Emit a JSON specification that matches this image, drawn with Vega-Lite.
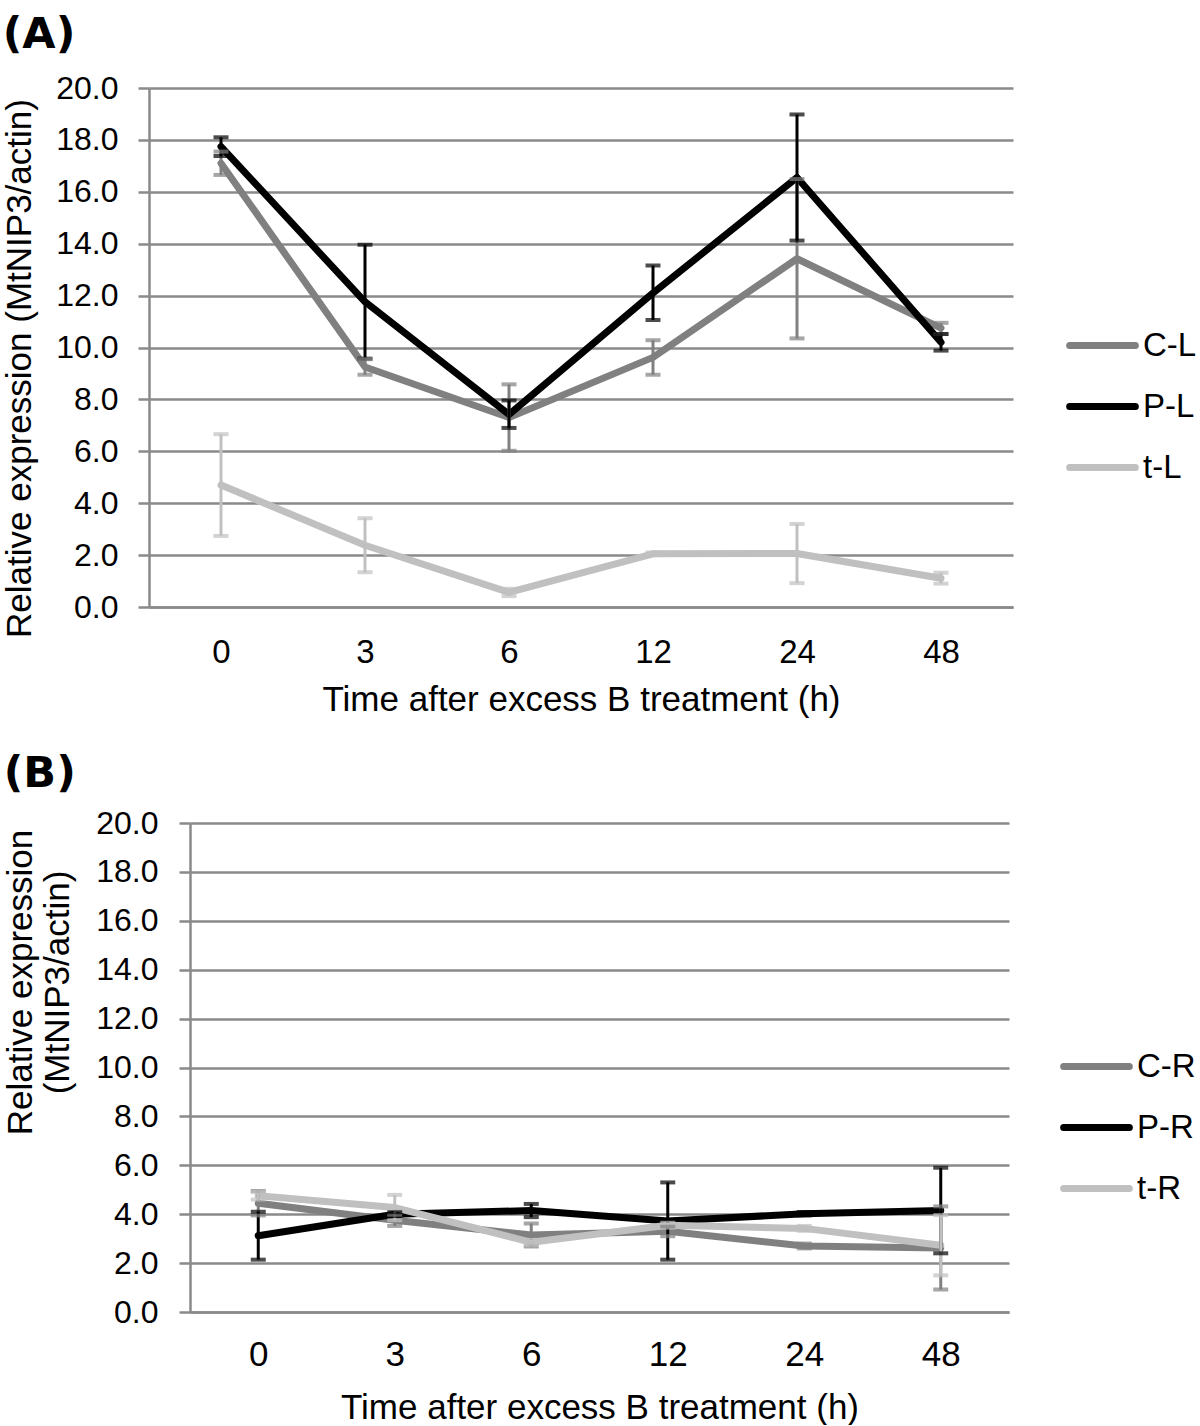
{
  "$schema": "https://vega.github.io/schema/vega-lite/v6.json",
  "background": "white",
  "padding": {"left": 2, "top": 14, "right": 0, "bottom": 0},
  "spacing": 36,
  "resolve": {"scale": {"color": "independent", "x": "independent", "y": "independent"}, "legend": {"color": "independent"}},
  "config": {
    "font": "Liberation Sans",
    "view": {"stroke": null},
    "axis": {
      "labelFont": "Liberation Sans", "titleFont": "Liberation Sans",
      "labelColor": "#000000", "titleColor": "#000000", "titleFontWeight": "normal",
      "domainColor": "#8a8a8a", "domainWidth": 2.5,
      "gridColor": "#8a8a8a", "gridWidth": 2.5,
      "tickColor": "#8a8a8a", "tickWidth": 2.5
    },
    "legend": {"labelFont": "Liberation Sans", "labelColor": "#000000", "padding": 0},
    "title": {"font": "DejaVu Sans", "color": "#000000"}
  },
  "datasets": {
    "dA": [
      {"series": "C-L", "time": "0", "value": 17.1, "lo": 16.65, "hi": 17.55},
      {"series": "C-L", "time": "3", "value": 9.25, "lo": 8.95, "hi": 9.55},
      {"series": "C-L", "time": "6", "value": 7.3, "lo": 6.02, "hi": 8.58},
      {"series": "C-L", "time": "12", "value": 9.62, "lo": 8.95, "hi": 10.28},
      {"series": "C-L", "time": "24", "value": 13.42, "lo": 10.35, "hi": 16.49},
      {"series": "C-L", "time": "48", "value": 10.75, "lo": 10.52, "hi": 10.95},
      {"series": "P-L", "time": "0", "value": 17.74, "lo": 17.38, "hi": 18.1},
      {"series": "P-L", "time": "3", "value": 11.76, "lo": 9.57, "hi": 13.96},
      {"series": "P-L", "time": "6", "value": 7.42, "lo": 6.9, "hi": 7.96},
      {"series": "P-L", "time": "12", "value": 12.1, "lo": 11.06, "hi": 13.16},
      {"series": "P-L", "time": "24", "value": 16.55, "lo": 14.12, "hi": 18.98},
      {"series": "P-L", "time": "48", "value": 10.2, "lo": 9.88, "hi": 10.52},
      {"series": "t-L", "time": "0", "value": 4.7, "lo": 2.74, "hi": 6.66},
      {"series": "t-L", "time": "3", "value": 2.38, "lo": 1.34, "hi": 3.42},
      {"series": "t-L", "time": "6", "value": 0.56, "lo": 0.42, "hi": 0.7},
      {"series": "t-L", "time": "12", "value": 2.05, "lo": 2.0, "hi": 2.1},
      {"series": "t-L", "time": "24", "value": 2.06, "lo": 0.92, "hi": 3.2},
      {"series": "t-L", "time": "48", "value": 1.11, "lo": 0.9, "hi": 1.32}
    ],
    "dB": [
      {"series": "C-R", "time": "0", "value": 4.45, "lo": 3.95, "hi": 4.95},
      {"series": "C-R", "time": "3", "value": 3.75, "lo": 3.52, "hi": 3.98},
      {"series": "C-R", "time": "6", "value": 3.15, "lo": 2.68, "hi": 3.62},
      {"series": "C-R", "time": "12", "value": 3.3, "lo": 3.1, "hi": 3.5},
      {"series": "C-R", "time": "24", "value": 2.7, "lo": 2.6, "hi": 2.8},
      {"series": "C-R", "time": "48", "value": 2.62, "lo": 0.92, "hi": 4.32},
      {"series": "P-R", "time": "0", "value": 3.12, "lo": 2.14, "hi": 4.1},
      {"series": "P-R", "time": "3", "value": 4.0, "lo": 3.92, "hi": 4.08},
      {"series": "P-R", "time": "6", "value": 4.15, "lo": 3.88, "hi": 4.42},
      {"series": "P-R", "time": "12", "value": 3.72, "lo": 2.14, "hi": 5.3},
      {"series": "P-R", "time": "24", "value": 4.02, "lo": 3.95, "hi": 4.09},
      {"series": "P-R", "time": "48", "value": 4.15, "lo": 2.4, "hi": 5.9},
      {"series": "t-R", "time": "0", "value": 4.75, "lo": 4.6, "hi": 4.9},
      {"series": "t-R", "time": "3", "value": 4.27, "lo": 3.75, "hi": 4.79},
      {"series": "t-R", "time": "6", "value": 2.85, "lo": 2.75, "hi": 2.95},
      {"series": "t-R", "time": "12", "value": 3.55, "lo": 3.45, "hi": 3.65},
      {"series": "t-R", "time": "24", "value": 3.42, "lo": 3.32, "hi": 3.52},
      {"series": "t-R", "time": "48", "value": 2.73, "lo": 1.5, "hi": 3.96}
    ]
  },
  "vconcat": [
    {"hconcat": [
    {
      "width": 864,
      "height": 519,
      "data": {"name": "dA"},
      "title": {"text": "(A)", "anchor": "start", "frame": "bounds", "fontSize": 43, "fontWeight": "bold", "offset": 15},
      "encoding": {
        "x": {"field": "time", "type": "ordinal", "sort": ["0", "3", "6", "12", "24", "48"], "scale": {"type": "point", "padding": 0.5},
          "axis": {"title": "Time after excess B treatment (h)", "labelAngle": 0, "labelFontSize": 33, "titleFontSize": 35, "ticks": false, "labelPadding": 29, "titlePadding": 13, "grid": false}},
        "color": {"field": "series", "type": "nominal", "scale": {"domain": ["C-L", "P-L", "t-L"], "range": ["#808080", "#000000", "#c0c0c0"]},
          "legend": {"title": null, "orient": "none", "legendX": 937, "legendY": 241, "symbolType": "M-2.7,0H2.7", "symbolSize": 592, "symbolStrokeWidth": 7, "labelFontSize": 33, "labelOffset": 24, "rowPadding": 27,
            "encode": {"symbols": {"update": {"strokeCap": {"value": "round"}, "fill": {"value": "transparent"}}}}}}
      },
      "layer": [
        {"mark": {"type": "line", "strokeWidth": 7, "strokeJoin": "round", "strokeCap": "round"},
          "encoding": {"y": {"field": "value", "type": "quantitative", "scale": {"domain": [0, 20], "nice": false},
            "axis": {"title": "Relative expression (MtNIP3/actin)", "values": [0, 2, 4, 6, 8, 10, 12, 14, 16, 18, 20], "format": ".1f", "labelFontSize": 32, "titleFontSize": 35, "tickSize": 11, "labelPadding": 20, "titlePadding": 18, "titleY": 280, "grid": true}}}},
        {"mark": {"type": "rule", "strokeWidth": 3},
          "encoding": {"y": {"field": "lo", "type": "quantitative",
            "axis": {"title": "Relative expression (MtNIP3/actin)", "values": [0, 2, 4, 6, 8, 10, 12, 14, 16, 18, 20], "format": ".1f", "labelFontSize": 32, "titleFontSize": 35, "tickSize": 11, "labelPadding": 20, "titlePadding": 18, "titleY": 280, "grid": true}}, "y2": {"field": "hi"}}},
        {"mark": {"type": "tick", "size": 15, "thickness": 4},
          "encoding": {"y": {"field": "lo", "type": "quantitative",
            "axis": {"title": "Relative expression (MtNIP3/actin)", "values": [0, 2, 4, 6, 8, 10, 12, 14, 16, 18, 20], "format": ".1f", "labelFontSize": 32, "titleFontSize": 35, "tickSize": 11, "labelPadding": 20, "titlePadding": 18, "titleY": 280, "grid": true}}}},
        {"mark": {"type": "tick", "size": 15, "thickness": 4},
          "encoding": {"y": {"field": "hi", "type": "quantitative",
            "axis": {"title": "Relative expression (MtNIP3/actin)", "values": [0, 2, 4, 6, 8, 10, 12, 14, 16, 18, 20], "format": ".1f", "labelFontSize": 32, "titleFontSize": 35, "tickSize": 11, "labelPadding": 20, "titlePadding": 18, "titleY": 280, "grid": true}}}}
      ]
    }
    ]},
    {"bounds": "flush", "spacing": 0, "hconcat": [
    {"width": 41, "height": 489, "data": {"values": []}, "mark": "point"},
    {
      "width": 819,
      "height": 489,
      "data": {"name": "dB"},
      "title": {"text": "(B)", "anchor": "start", "frame": "bounds", "fontSize": 43, "fontWeight": "bold", "offset": 11},
      "encoding": {
        "x": {"field": "time", "type": "ordinal", "sort": ["0", "3", "6", "12", "24", "48"], "scale": {"type": "point", "padding": 0.5},
          "axis": {"title": "Time after excess B treatment (h)", "labelAngle": 0, "labelFontSize": 35, "titleFontSize": 35, "ticks": false, "labelPadding": 25, "titlePadding": 18, "grid": false}},
        "color": {"field": "series", "type": "nominal", "scale": {"domain": ["C-R", "P-R", "t-R"], "range": ["#808080", "#000000", "#c0c0c0"]},
          "legend": {"title": null, "orient": "none", "legendX": 931, "legendY": 227, "symbolType": "M-2.7,0H2.7", "symbolSize": 592, "symbolStrokeWidth": 7, "labelFontSize": 33, "labelOffset": 24, "rowPadding": 27,
            "encode": {"symbols": {"update": {"strokeCap": {"value": "round"}, "fill": {"value": "transparent"}}}}}}
      },
      "layer": [
        {"mark": {"type": "line", "strokeWidth": 7, "strokeJoin": "round", "strokeCap": "round"},
          "encoding": {"y": {"field": "value", "type": "quantitative", "scale": {"domain": [0, 20], "nice": false},
            "axis": {"title": ["Relative expression", "(MtNIP3/actin)"], "titleLineHeight": 37, "values": [0, 2, 4, 6, 8, 10, 12, 14, 16, 18, 20], "format": ".1f", "labelFontSize": 32, "titleFontSize": 35, "tickSize": 11, "labelPadding": 21, "titlePadding": 20, "titleY": 159, "grid": true}}}},
        {"mark": {"type": "rule", "strokeWidth": 3},
          "encoding": {"y": {"field": "lo", "type": "quantitative",
            "axis": {"title": ["Relative expression", "(MtNIP3/actin)"], "titleLineHeight": 37, "values": [0, 2, 4, 6, 8, 10, 12, 14, 16, 18, 20], "format": ".1f", "labelFontSize": 32, "titleFontSize": 35, "tickSize": 11, "labelPadding": 21, "titlePadding": 20, "titleY": 159, "grid": true}}, "y2": {"field": "hi"}}},
        {"mark": {"type": "tick", "size": 15, "thickness": 4},
          "encoding": {"y": {"field": "lo", "type": "quantitative",
            "axis": {"title": ["Relative expression", "(MtNIP3/actin)"], "titleLineHeight": 37, "values": [0, 2, 4, 6, 8, 10, 12, 14, 16, 18, 20], "format": ".1f", "labelFontSize": 32, "titleFontSize": 35, "tickSize": 11, "labelPadding": 21, "titlePadding": 20, "titleY": 159, "grid": true}}}},
        {"mark": {"type": "tick", "size": 15, "thickness": 4},
          "encoding": {"y": {"field": "hi", "type": "quantitative",
            "axis": {"title": ["Relative expression", "(MtNIP3/actin)"], "titleLineHeight": 37, "values": [0, 2, 4, 6, 8, 10, 12, 14, 16, 18, 20], "format": ".1f", "labelFontSize": 32, "titleFontSize": 35, "tickSize": 11, "labelPadding": 21, "titlePadding": 20, "titleY": 159, "grid": true}}}}
      ]
    }
    ]}
  ]
}
